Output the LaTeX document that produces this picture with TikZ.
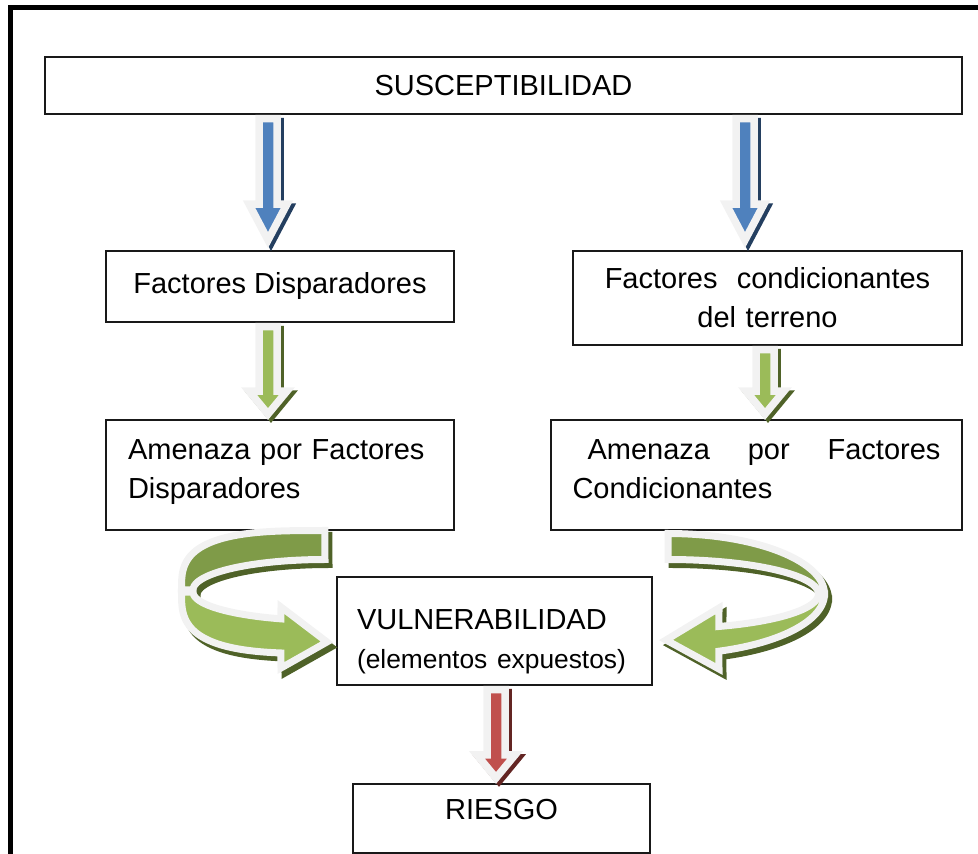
\documentclass[tikz,border=0pt]{standalone}
\usepackage{fontspec}
\setmainfont{Liberation Sans}
\usetikzlibrary{calc}

\definecolor{azulf}{HTML}{4F81BD}
\definecolor{azuls}{HTML}{243F60}
\definecolor{verdef}{HTML}{9BBB59}
\definecolor{verdeo}{HTML}{7F9B48}
\definecolor{verdes}{HTML}{4F6228}
\definecolor{rojof}{HTML}{C0504D}
\definecolor{rojos}{HTML}{632523}
\definecolor{borde}{HTML}{F2F2F2}

\tikzset{
  caja/.style={draw=black!90, line width=1.1pt, inner sep=0pt,
    font=\fontsize{16.5}{22.2}\selectfont},
}

% Flecha gruesa recta: origen, destino, relleno, sombra, base de la punta, punta
\newcommand{\flechagorda}[6]{%
  \path (#1) coordinate (fg-o) (#2) coordinate (fg-d);
  \foreach \sh/\rel/\lin in {1/#4/#4, 0/#3/borde}
    \filldraw[fill=\rel, draw=\lin, line width=0.15cm]
      ($(fg-o)+(-9,3.75)+\sh*(3,3)$) -- ($(fg-d)+(-9,-#5)+\sh*(3,3)$)
      -- ($(fg-d)+(-19,-#5)+\sh*(3,3)$) -- ($(fg-d)+(0,-#6)+\sh*(3,3)$)
      -- ($(fg-d)+(19,-#5)+\sh*(3,3)$) -- ($(fg-d)+(9,-#5)+\sh*(3,3)$)
      -- ($(fg-o)+(9,3.75)+\sh*(3,3)$) -- cycle;
}

\begin{document}
\begin{tikzpicture}[x=0.02cm, y=-0.02cm]
\useasboundingbox (0,0) rectangle (978,854);
\clip (0,0) rectangle (978,854);

% Marco exterior
\draw[line width=0.106cm] (10.6,880) -- (10.6,7.8) -- (1000,7.8);

% Cajas
\node[caja, minimum width=18.34cm, minimum height=1.14cm] (sus) at (503.5,85.5) {SUSCEPTIBILIDAD};
\node[caja, minimum width=6.96cm, minimum height=1.42cm] (fd) at (280,286.5) {Factores Disparadores};
\node[caja, minimum width=7.78cm, minimum height=1.88cm, text width=7.5cm, align=center] (fc) at (767.5,298) {Factores\ \ condicionantes\\del terreno};
\node[caja, minimum width=6.96cm, minimum height=2.2cm, text width=6.08cm, align=left, text depth=1.02cm] (ad) at (280,475) {Amenaza por Factores\\Disparadores};
\node[caja, minimum width=8.22cm, minimum height=2.2cm, text width=7.36cm, align=left, text depth=1.0cm] (ac) at (756.5,475) {\hbox to 7.36cm{\hskip 0.3cm Amenaza\hfill por\hfill Factores}\\Condicionantes};
\node[caja, minimum width=6.3cm, minimum height=2.16cm, text width=5.5cm, align=left, text height=0.82cm] (vul) at (494.5,631) {VULNERABILIDAD\\{\fontsize{15}{22.2}\selectfont(elementos expuestos)}};
\node[caja, minimum width=5.94cm, minimum height=1.38cm, text depth=0.36cm] (rie) at (501.5,818.4) {RIESGO};

% Flechas rectas
\flechagorda{268,0 |- sus.south}{268,0 |- fd.north}{azulf}{azuls}{46}{10}
\flechagorda{745,0 |- sus.south}{745,0 |- fc.north}{azulf}{azuls}{46}{10}
\flechagorda{268,0 |- fd.south}{268,0 |- ad.north}{verdef}{verdes}{28}{5}
\flechagorda{765,0 |- fc.south}{765,0 |- ac.north}{verdef}{verdes}{28}{5}
\flechagorda{496,0 |- vul.south}{496,0 |- rie.north}{rojof}{rojos}{28}{5}

% Flecha curva izquierda
\foreach \sh/\up/\lo/\lin in {1/verdes/verdes/verdes, 0/verdeo/verdef/borde} {
  \begin{scope}[shift={(4*\sh,5*\sh)}]
    \filldraw[fill=\up, draw=\lin, line width=0.14cm]
      plot[domain=90:180, samples=50] ({325-143.5*pow(abs(cos(\x))+0.00001,0.65)},{590-59.5*pow(abs(sin(\x))+0.00001,0.65)})
      -- plot[domain=180:90, samples=40] ({325+132*cos(\x)},{590-30.5*sin(\x)}) -- cycle;
    \filldraw[fill=\lo, draw=\lin, line width=0.14cm]
      plot[domain=180:260.7, samples=50] ({325-143.5*pow(abs(cos(\x))+0.00001,0.65)},{592+61.5*pow(abs(sin(\x))+0.00001,0.65)})
      -- (281,668) -- (327,642) -- (281,607)
      -- plot[domain=250.5:180, samples=40] ({325+132*cos(\x)},{592-28.5*sin(\x)}) -- cycle;
  \end{scope}
}

% Flecha curva derecha
\foreach \sh/\up/\lo/\lin in {1/verdes/verdes/verdes, 0/verdeo/verdef/borde} {
  \begin{scope}[shift={(4*\sh,5*\sh)}]
    \filldraw[fill=\up, draw=\lin, line width=0.14cm]
      plot[domain=90:180, samples=40] ({668-156.5*cos(\x)},{594-60.5*sin(\x)})
      -- plot[domain=180:90, samples=40] ({668-150.5*cos(\x)},{594-34.5*sin(\x)}) -- cycle;
    \filldraw[fill=\lo, draw=\lin, line width=0.14cm]
      plot[domain=180:251, samples=40] ({668-156.5*cos(\x)},{594-60.5*sin(\x)})
      -- (719,669) -- (666,640) -- (719,608)
      -- plot[domain=250.2:180, samples=40] ({668-150.5*cos(\x)},{594-34.5*sin(\x)}) -- cycle;
  \end{scope}
}
\end{tikzpicture}
\end{document}
